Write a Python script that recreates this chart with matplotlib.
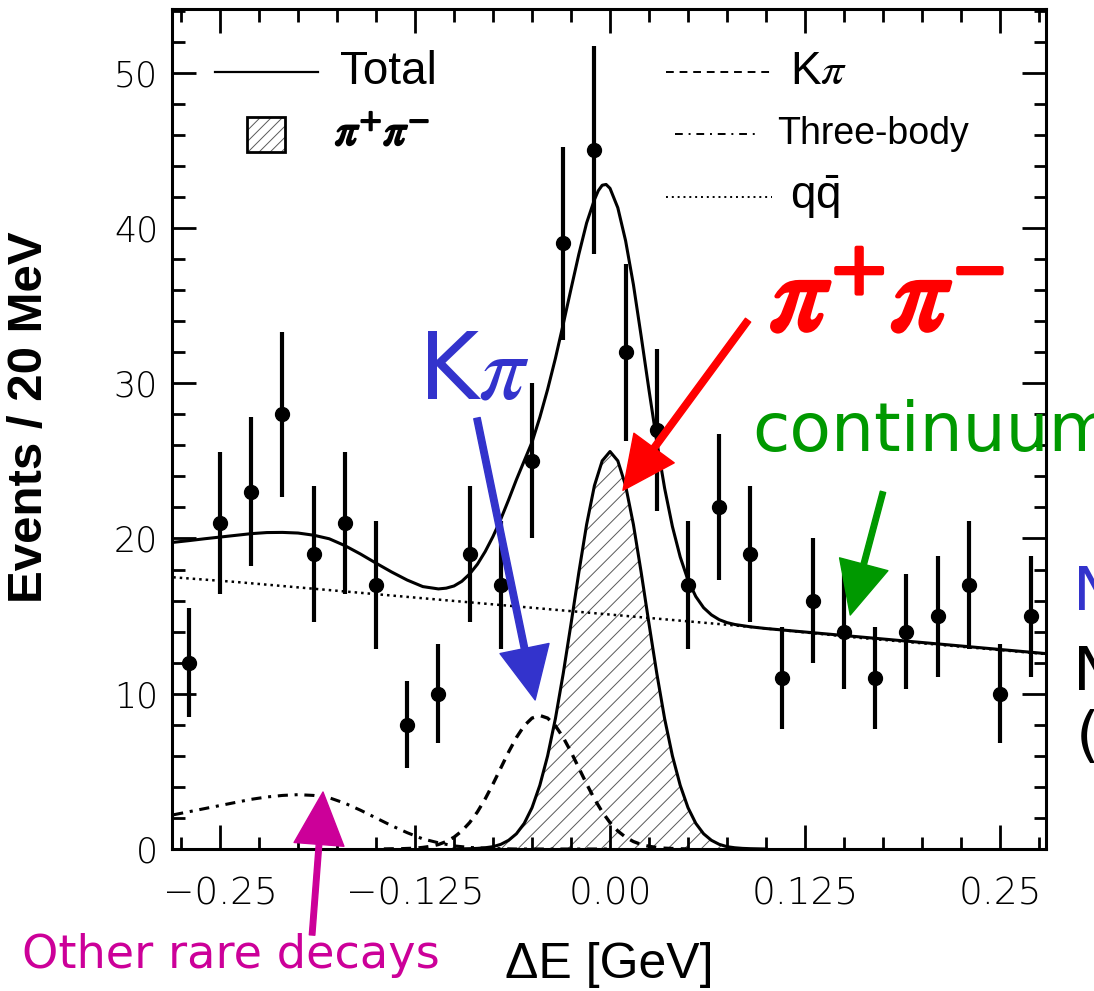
import matplotlib
matplotlib.use('Agg')
import matplotlib.pyplot as plt
import matplotlib.patheffects as pe
from matplotlib.patches import Rectangle
from matplotlib.ticker import MultipleLocator, FixedLocator

# ---- data points (20 MeV bins) ----
DE_BINS = [-0.27, -0.25, -0.23, -0.21, -0.19, -0.17, -0.15, -0.13, -0.11, -0.09,
           -0.07, -0.05, -0.03, -0.01, 0.01, 0.03, 0.05, 0.07, 0.09, 0.11,
           0.13, 0.15, 0.17, 0.19, 0.21, 0.23, 0.25, 0.27]
EVENTS = [12, 21, 23, 28, 19, 21, 17, 8, 10, 19,
          17, 25, 39, 45, 32, 27, 17, 22, 19, 11,
          16, 14, 11, 14, 15, 17, 10, 15]
EVENTS_ERR = [3.5, 4.6, 4.8, 5.3, 4.4, 4.6, 4.1, 2.8, 3.2, 4.4,
              4.1, 5.0, 6.2, 6.7, 5.7, 5.2, 4.1, 4.7, 4.4, 3.3,
              4.0, 3.7, 3.3, 3.7, 3.9, 4.1, 3.2, 3.9]

# ---- fit components ----
QQ_X = [-0.28, -0.24, -0.20, -0.16, -0.12, -0.08, -0.04, 0.00,
        0.04, 0.08, 0.12, 0.16, 0.20, 0.24, 0.28]
QQ_Y = [17.5, 17.2, 16.85, 16.5, 16.15, 15.8, 15.45, 15.1,
        14.75, 14.4, 14.0, 13.6, 13.25, 12.9, 12.55]

THREEBODY_X = [-0.28, -0.27, -0.26, -0.25, -0.24, -0.23, -0.22, -0.21, -0.20,
               -0.19, -0.18, -0.17, -0.16, -0.15, -0.14, -0.13, -0.12, -0.11,
               -0.10, -0.09, -0.08, -0.07, -0.06, -0.04, -0.02, 0.00]
THREEBODY_Y = [2.2, 2.4, 2.6, 2.8, 3.0, 3.2, 3.35, 3.45, 3.5,
               3.45, 3.3, 2.95, 2.5, 2.0, 1.5, 1.05, 0.65, 0.4,
               0.2, 0.1, 0.05, 0.02, 0.0, 0.0, 0.0, 0.0]

KPI_X = [-0.145, -0.14, -0.135, -0.13, -0.125, -0.12, -0.115, -0.11, -0.105,
         -0.10, -0.095, -0.09, -0.085, -0.08, -0.075, -0.07, -0.065, -0.06,
         -0.055, -0.05, -0.045, -0.04, -0.035, -0.03, -0.025, -0.02, -0.015,
         -0.01, -0.005, 0.0, 0.005, 0.01, 0.015, 0.02, 0.025, 0.03, 0.035,
         0.04, 0.045, 0.05]
KPI_Y = [0.0, 0.01, 0.01, 0.03, 0.05, 0.10, 0.17, 0.29, 0.48,
         0.76, 1.16, 1.70, 2.39, 3.23, 4.19, 5.22, 6.25, 7.18,
         7.94, 8.43, 8.6, 8.43, 7.94, 7.18, 6.25, 5.22, 4.19,
         3.23, 2.39, 1.70, 1.16, 0.76, 0.48, 0.29, 0.17, 0.10, 0.05,
         0.03, 0.01, 0.0]

PIPI_X = [-0.10, -0.09, -0.085, -0.08, -0.075, -0.07, -0.065, -0.06, -0.055,
          -0.05, -0.045, -0.04, -0.035, -0.03, -0.025, -0.02, -0.015, -0.01,
          -0.005, 0.0, 0.005, 0.01, 0.015, 0.02, 0.025, 0.03, 0.035, 0.04,
          0.045, 0.05, 0.055, 0.06, 0.065, 0.07, 0.075, 0.08, 0.085, 0.09,
          0.10]
PIPI_Y = [0.0, 0.02, 0.04, 0.08, 0.15, 0.30, 0.56, 0.98, 1.65,
          2.66, 4.1, 6.0, 8.4, 11.3, 14.5, 17.8, 20.9, 23.4,
          25.0, 25.6, 25.0, 23.4, 20.9, 17.8, 14.5, 11.3, 8.4, 6.0,
          4.1, 2.66, 1.65, 0.98, 0.56, 0.30, 0.15, 0.08, 0.04, 0.02,
          0.0]

TOTAL_X = [-0.28, -0.27, -0.26, -0.25, -0.24, -0.23, -0.22, -0.21, -0.20,
           -0.19, -0.18, -0.17, -0.16, -0.15, -0.14, -0.13, -0.12, -0.11,
           -0.105, -0.10, -0.095, -0.09, -0.085, -0.08, -0.075, -0.07, -0.065,
           -0.06, -0.055, -0.05, -0.045, -0.04, -0.035, -0.03, -0.025, -0.02,
           -0.015, -0.01, -0.0075, -0.005, -0.0025, 0.0, 0.005, 0.01, 0.015,
           0.02, 0.025, 0.03,
           0.035, 0.04, 0.045, 0.05, 0.055, 0.06, 0.065, 0.07, 0.075, 0.08,
           0.09, 0.10, 0.12, 0.14, 0.16, 0.18, 0.20, 0.22, 0.24, 0.26, 0.28]
TOTAL_Y = [19.75, 19.86, 19.98, 20.09, 20.2, 20.31, 20.38, 20.39, 20.35,
           20.21, 19.98, 19.54, 19.0, 18.41, 17.84, 17.32, 16.9, 16.75,
           16.8, 16.94, 17.24, 17.71, 18.34, 19.16, 20.13, 21.25, 22.49,
           23.79, 25.0, 26.2, 27.8, 29.6, 31.6, 33.8, 36.07, 38.3,
           40.32, 41.82, 42.4, 42.75, 42.8, 42.55, 41.3, 39.17, 36.35,
           33.01, 29.55, 26.23,
           23.24, 20.77, 18.81, 17.31, 16.26, 15.54, 15.08, 14.77, 14.58, 14.46,
           14.31, 14.2, 14.02, 13.84, 13.66, 13.48, 13.3, 13.12, 12.94, 12.76, 12.58]

X_TICKS = [-0.25, -0.125, 0.0, 0.125, 0.25]
X_TICKLABELS = ['\u22120.25', '\u22120.125', '0.00', '0.125', '0.25']
Y_TICKS = [0, 10, 20, 30, 40, 50]

BLUE = '#3333CC'
RED = '#FF0000'
GREEN = '#009900'
MAGENTA = '#CC0099'


def main():
    plt.rcParams['hatch.linewidth'] = 0.7
    plt.rcParams['mathtext.fontset'] = 'custom'
    plt.rcParams['mathtext.rm'] = 'Liberation Sans'
    plt.rcParams['mathtext.it'] = 'Liberation Sans:italic'

    W, H = 1094, 991
    fig = plt.figure(figsize=(W / 100, H / 100), dpi=100)
    ax = fig.add_axes([172 / W, 1 - 849 / H, 874 / W, 840 / H])
    ax.set_xlim(-0.2808, 0.2795)
    ax.set_ylim(0, 54.1)

    # 成分
    ax.fill_between(PIPI_X, PIPI_Y, 0, facecolor='white', edgecolor='0.35',
                    hatch='//', linewidth=0, zorder=1)
    ax.plot(PIPI_X, PIPI_Y, color='k', lw=2.2, zorder=3)
    ax.plot(QQ_X, QQ_Y, color='k', lw=1.8, linestyle=(0, (1, 1.6)), zorder=2)
    ax.plot(THREEBODY_X, THREEBODY_Y, color='k', lw=2.2,
            linestyle=(0, (3.3, 2.2, 1, 2.2)), zorder=2)
    ax.plot(KPI_X, KPI_Y, color='k', lw=2.4, linestyle=(0, (3.0, 2.2)), zorder=2)
    ax.plot(TOTAL_X, TOTAL_Y, color='k', lw=2.2, zorder=3)

    # データ点
    ax.errorbar(DE_BINS, EVENTS, yerr=EVENTS_ERR, fmt='o', color='k',
                markersize=10, elinewidth=3, capsize=0, zorder=4)

    # 軸
    for sp in ax.spines.values():
        sp.set_linewidth(2.2)
    ax.xaxis.set_major_locator(FixedLocator(X_TICKS))
    ax.xaxis.set_minor_locator(MultipleLocator(0.025))
    ax.yaxis.set_major_locator(FixedLocator(Y_TICKS))
    ax.yaxis.set_minor_locator(MultipleLocator(2))
    ax.set_xticklabels(X_TICKLABELS)
    ax.tick_params(which='both', direction='in', top=True, right=True, width=2)
    ax.tick_params(which='major', length=17)
    ax.tick_params(which='minor', length=9)
    ax.tick_params(axis='x', which='major', pad=20, labelsize=27)
    ax.tick_params(axis='y', which='major', pad=10, labelsize=25)
    for lab in ax.get_xticklabels() + ax.get_yticklabels():
        lab.set_fontfamily('DejaVu Sans')
        lab.set_fontweight('light')

    fig.text(30 / W, 1 - 417 / H, 'Events / 20 MeV', rotation=90,
             ha='center', va='center', fontsize=35.5, fontweight='bold',
             family=['Liberation Sans Narrow', 'Liberation Sans'])
    fig.text(609 / W, 1 - 978 / H, '\u0394E [GeV]', ha='center', va='baseline',
             fontsize=36, family='Liberation Sans')

    # 凡例
    tr = ax.transAxes
    leg_font = dict(family='Liberation Sans', va='center')
    ax.plot([0.049, 0.167], [0.925, 0.925], color='k', lw=1.6, transform=tr)
    ax.text(0.192, 0.925, 'Total', fontsize=33, transform=tr, **leg_font)
    ax.add_patch(Rectangle((0.0858, 0.830), 0.0435, 0.0416, transform=tr,
                           facecolor='white', edgecolor='0.35', hatch='///',
                           linewidth=0))
    ax.add_patch(Rectangle((0.0858, 0.830), 0.0435, 0.0416, transform=tr,
                           fill=False, edgecolor='k', linewidth=2))
    ax.text(0.1865, 0.852, r'$\pi^{+}\pi^{-}$', fontsize=32, transform=tr,
            math_fontfamily='stix',
            path_effects=[pe.withStroke(linewidth=1.5, foreground='k')],
            **leg_font)
    ax.plot([0.565, 0.686], [0.925, 0.925], color='k', lw=1.4,
            linestyle=(0, (4, 3)), transform=tr)
    ax.text(0.707, 0.925, 'K$\\pi$', fontsize=33, transform=tr,
            math_fontfamily='stix', **leg_font)
    ax.plot([0.575, 0.673], [0.851, 0.851], color='k', lw=1.4,
            linestyle=(0, (4, 3, 1, 3)), transform=tr)
    ax.text(0.692, 0.851, 'Three-body', fontsize=27, transform=tr, **leg_font)
    ax.plot([0.565, 0.686], [0.776, 0.776], color='k', lw=1.4,
            linestyle=(0, (1, 2)), transform=tr)
    ax.text(0.707, 0.776, r'$\mathrm{q\bar{q}}$', fontsize=33, transform=tr,
            math_fontfamily='custom', **leg_font)

    # 注釈テキスト
    fig.text(770 / W, 1 - 330 / H, r'$\pi^{+}\pi^{-}$', color=RED, fontsize=80,
             va='baseline', math_fontfamily='stix',
             path_effects=[pe.withStroke(linewidth=3, foreground=RED)])
    fig.text(418 / W, 1 - 399 / H, 'K$\\pi$', color=BLUE, fontsize=66,
             va='baseline', family='DejaVu Sans', math_fontfamily='stix')
    fig.text(752 / W, 1 - 451 / H, 'continuum', color=GREEN, fontsize=49,
             va='baseline', family='DejaVu Sans')
    fig.text(22 / W, 1 - 968 / H, 'Other rare decays', color=MAGENTA,
             fontsize=33.3, va='baseline', family='DejaVu Sans')
    fig.text(1073 / W, 1 - 610 / H, 'N', color=BLUE, fontsize=44,
             va='baseline', family='DejaVu Sans')
    fig.text(1073 / W, 1 - 690 / H, 'N', color='k', fontsize=44,
             va='baseline', family='DejaVu Sans')
    fig.text(1076 / W, 1 - 755 / H, '(', color='k', fontsize=44,
             va='baseline', family='DejaVu Sans')

    # 矢印
    def arrow(tail, tip, color, lw_scale):
        ax.annotate('', xy=tip, xytext=tail, xycoords='data',
                    textcoords='data', annotation_clip=False,
                    arrowprops=dict(arrowstyle='simple,head_length=1.05,'
                                    'head_width=1.0,tail_width=%g' % lw_scale,
                                    mutation_scale=36, color=color,
                                    shrinkA=0, shrinkB=0), zorder=6)

    arrow((-0.0853, 27.75), (-0.048, 9.6), BLUE, 0.13)
    arrow((0.0885, 34.06), (0.0083, 23.1), RED, 0.13)
    arrow((0.175, 23.0), (0.154, 15.07), GREEN, 0.11)
    arrow((-0.191, -5.54), (-0.184, 3.67), MAGENTA, 0.11)

    fig.savefig('out.png', dpi=100)


if __name__ == '__main__':
    main()
